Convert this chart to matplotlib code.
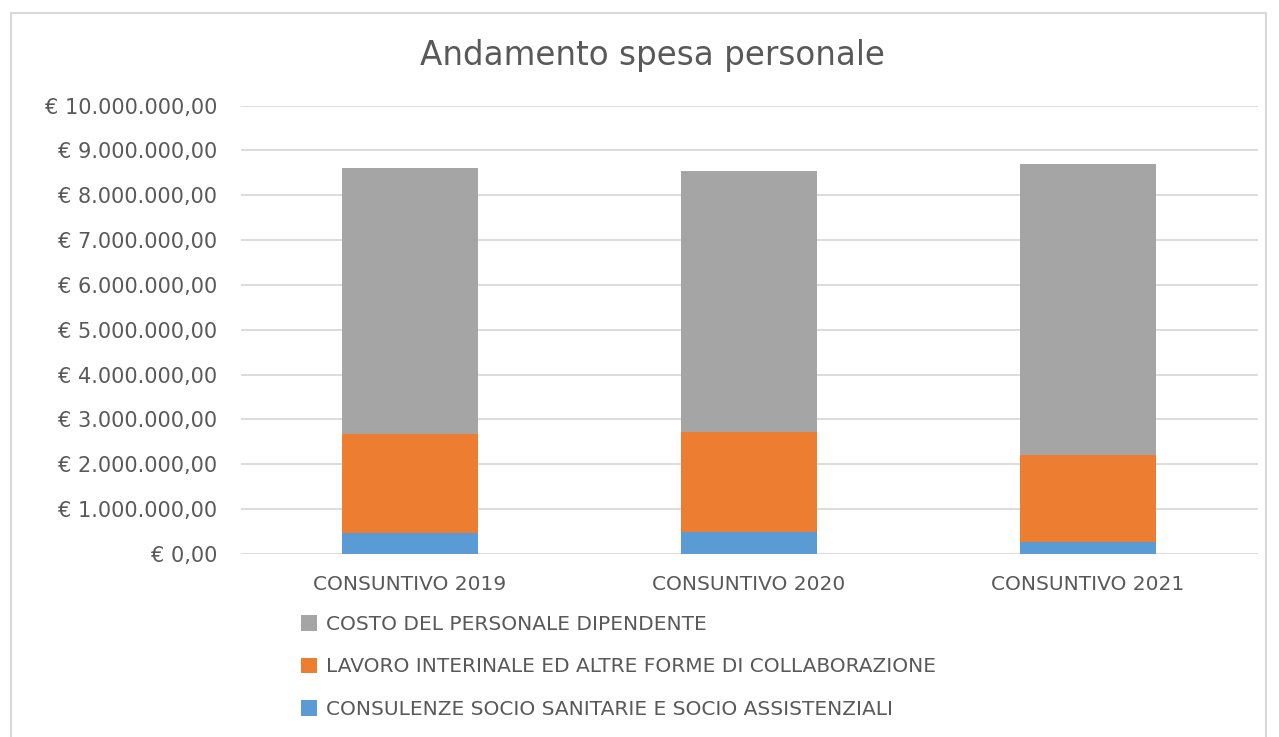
import matplotlib
matplotlib.use("Agg")
import matplotlib.pyplot as plt
from matplotlib.patches import Rectangle
from matplotlib.ticker import FuncFormatter

categories = ["CONSUNTIVO 2019", "CONSUNTIVO 2020", "CONSUNTIVO 2021"]
consulenze = [475000, 500000, 260000]
lavoro = [2195000, 2220000, 1950000]
costo = [5930000, 5820000, 6490000]
series_names = ["CONSULENZE SOCIO SANITARIE E SOCIO ASSISTENZIALI",
                "LAVORO INTERINALE ED ALTRE FORME DI COLLABORAZIONE",
                "COSTO DEL PERSONALE DIPENDENTE"]
colors = ["#5b9bd5", "#ed7d31", "#a5a5a5"]
yticks = list(range(0, 10000001, 1000000))

plt.rcParams['font.family'] = ['DejaVu Sans']
W, H = 1279, 737
fig = plt.figure(figsize=(W / 100, H / 100), dpi=100)
fig.patch.set_facecolor("white")

# chart border
fig.add_artist(Rectangle((11 / W, -0.01), (1266 - 11) / W, (H - 13) / H + 0.01,
                         transform=fig.transFigure, fill=False,
                         edgecolor="#d9d9d9", linewidth=1.5))

left, right, top, bottom = 240.5, 1257.5, 105.5, 554
ax = fig.add_axes([left / W, (H - bottom) / H, (right - left) / W, (bottom - top) / H])

x = range(len(categories))
bw = 0.4
b1 = ax.bar(x, consulenze, bw, color=colors[0], label=series_names[0], zorder=3)
bot2 = consulenze
b2 = ax.bar(x, lavoro, bw, bottom=bot2, color=colors[1], label=series_names[1], zorder=3)
bot3 = [a + b for a, b in zip(consulenze, lavoro)]
b3 = ax.bar(x, costo, bw, bottom=bot3, color=colors[2], label=series_names[2], zorder=3)

ax.set_xlim(-0.5, 2.5)
ax.set_ylim(0, 10000000)
ax.set_yticks(yticks)


def fmt(v, pos):
    s = f"{int(v):,}".replace(",", ".")
    return f"€ {s},00"


ax.yaxis.set_major_formatter(FuncFormatter(fmt))
ax.set_xticks(list(x))
ax.set_xticklabels(categories)
ax.grid(axis="y", color="#d9d9d9", linewidth=1.3, zorder=0)
for s in ax.spines.values():
    s.set_visible(False)
ax.tick_params(axis="y", length=0, colors="#595959", labelsize=15, pad=17)
ax.tick_params(axis="x", length=0, colors="#595959", labelsize=14.5, pad=15)

fig.text(652 / W, 1 - 55 / H, "Andamento spesa personale", ha="center", va="center",
         fontsize=23.5, color="#595959")

leg = fig.legend(handles=[b3, b2, b1], labels=[series_names[2], series_names[1], series_names[0]],
                 loc="upper left", bbox_to_anchor=(283 / W, 1 - 597 / H),
                 frameon=False, fontsize=14.5, labelcolor="#595959",
                 handlelength=0.8, handleheight=0.8, handletextpad=0.45,
                 labelspacing=1.16)

fig.savefig("out.png", dpi=100)
